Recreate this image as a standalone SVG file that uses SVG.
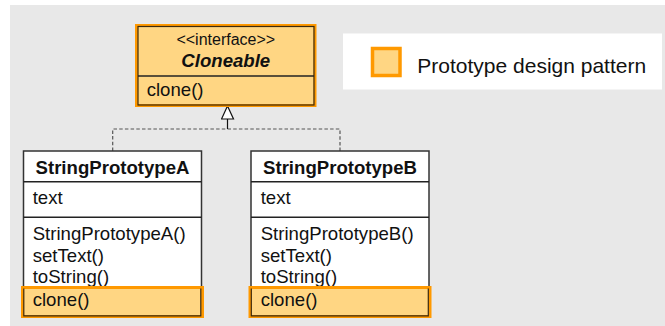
<svg xmlns="http://www.w3.org/2000/svg" width="665" height="326" viewBox="0 0 665 326">
<style>
text{font-family:"Liberation Sans",Arial,sans-serif;fill:#111;}
.t{font-size:18.6px;}
.b{font-size:18.6px;font-weight:bold;}
.box{fill:#fff;stroke:#333;stroke-width:1.5;}
.hl{fill:#FFD683;stroke:#FF9900;stroke-width:3;}
.dk{fill:none;stroke:#3a2a10;stroke-width:1.2;}
.sep{stroke:#222;stroke-width:1.5;}
.dash{fill:none;stroke:#555;stroke-width:1.2;stroke-dasharray:3.5,2.2;}
</style>
<defs>
<marker id="tri" markerWidth="16" markerHeight="14" refX="14" refY="7" orient="auto" markerUnits="userSpaceOnUse">
<path d="M1,1 L14,7 L1,13 Z" fill="#fff" stroke="#111" stroke-width="1.2"/>
</marker>
</defs>
<rect x="10" y="5" width="655" height="321" fill="#E8E8E8"/>
<g id="legend">
<rect x="343" y="33.5" width="319" height="56" fill="#fff"/>
<rect x="372.5" y="48.5" width="27.5" height="27" fill="#FFD683" stroke="#FF9900" stroke-width="3.5"/>
<text x="417.3" y="73.3" style="font-size:21px">Prototype design pattern</text>
</g>
<g id="connectors">
<path class="dash" d="M112.7,151 V129 H340 V151"/>
<line x1="227.5" y1="129" x2="227.5" y2="106" stroke="#111" stroke-width="1.2" marker-end="url(#tri)"/>
</g>
<g id="Cloneable">
<rect x="136.5" y="25.5" width="178.5" height="80" class="hl"/>
<rect x="138" y="26.5" width="176" height="78.5" class="dk"/>
<line x1="138" y1="76" x2="314" y2="76" class="sep"/>
<text x="225.8" y="45" text-anchor="middle" style="font-size:16px">&lt;&lt;interface&gt;&gt;</text>
<text x="225.8" y="67" text-anchor="middle" class="b" font-style="italic">Cloneable</text>
<text x="146.7" y="96" class="t">clone()</text>
</g>
<g id="StringPrototypeA">
<rect x="23.5" y="151" width="178" height="165" class="box"/>
<line x1="23.5" y1="181.7" x2="201.5" y2="181.7" class="sep"/>
<line x1="23.5" y1="217.3" x2="201.5" y2="217.3" class="sep"/>
<text x="112.5" y="174" text-anchor="middle" class="b">StringPrototypeA</text>
<text x="32.7" y="204" class="t">text</text>
<text x="32.7" y="240" class="t">StringPrototypeA()</text>
<text x="32.7" y="261.7" class="t">setText()</text>
<text x="32.7" y="283.3" class="t">toString()</text>
<rect x="22.5" y="287.5" width="180" height="29" class="hl"/>
<path d="M23.8,288.5 V315.8 H200.8 V288.5" class="dk"/>
<text x="32.7" y="306" class="t">clone()</text>
</g>
<g id="StringPrototypeB">
<rect x="251" y="151" width="178" height="165" class="box"/>
<line x1="251" y1="181.7" x2="429" y2="181.7" class="sep"/>
<line x1="251" y1="217.3" x2="429" y2="217.3" class="sep"/>
<text x="340" y="174" text-anchor="middle" class="b">StringPrototypeB</text>
<text x="260.7" y="204" class="t">text</text>
<text x="260.7" y="240" class="t">StringPrototypeB()</text>
<text x="260.7" y="261.7" class="t">setText()</text>
<text x="260.7" y="283.3" class="t">toString()</text>
<rect x="250" y="287.5" width="180" height="29" class="hl"/>
<path d="M251.3,288.5 V315.8 H428.3 V288.5" class="dk"/>
<text x="260.7" y="306" class="t">clone()</text>
</g>
</svg>
